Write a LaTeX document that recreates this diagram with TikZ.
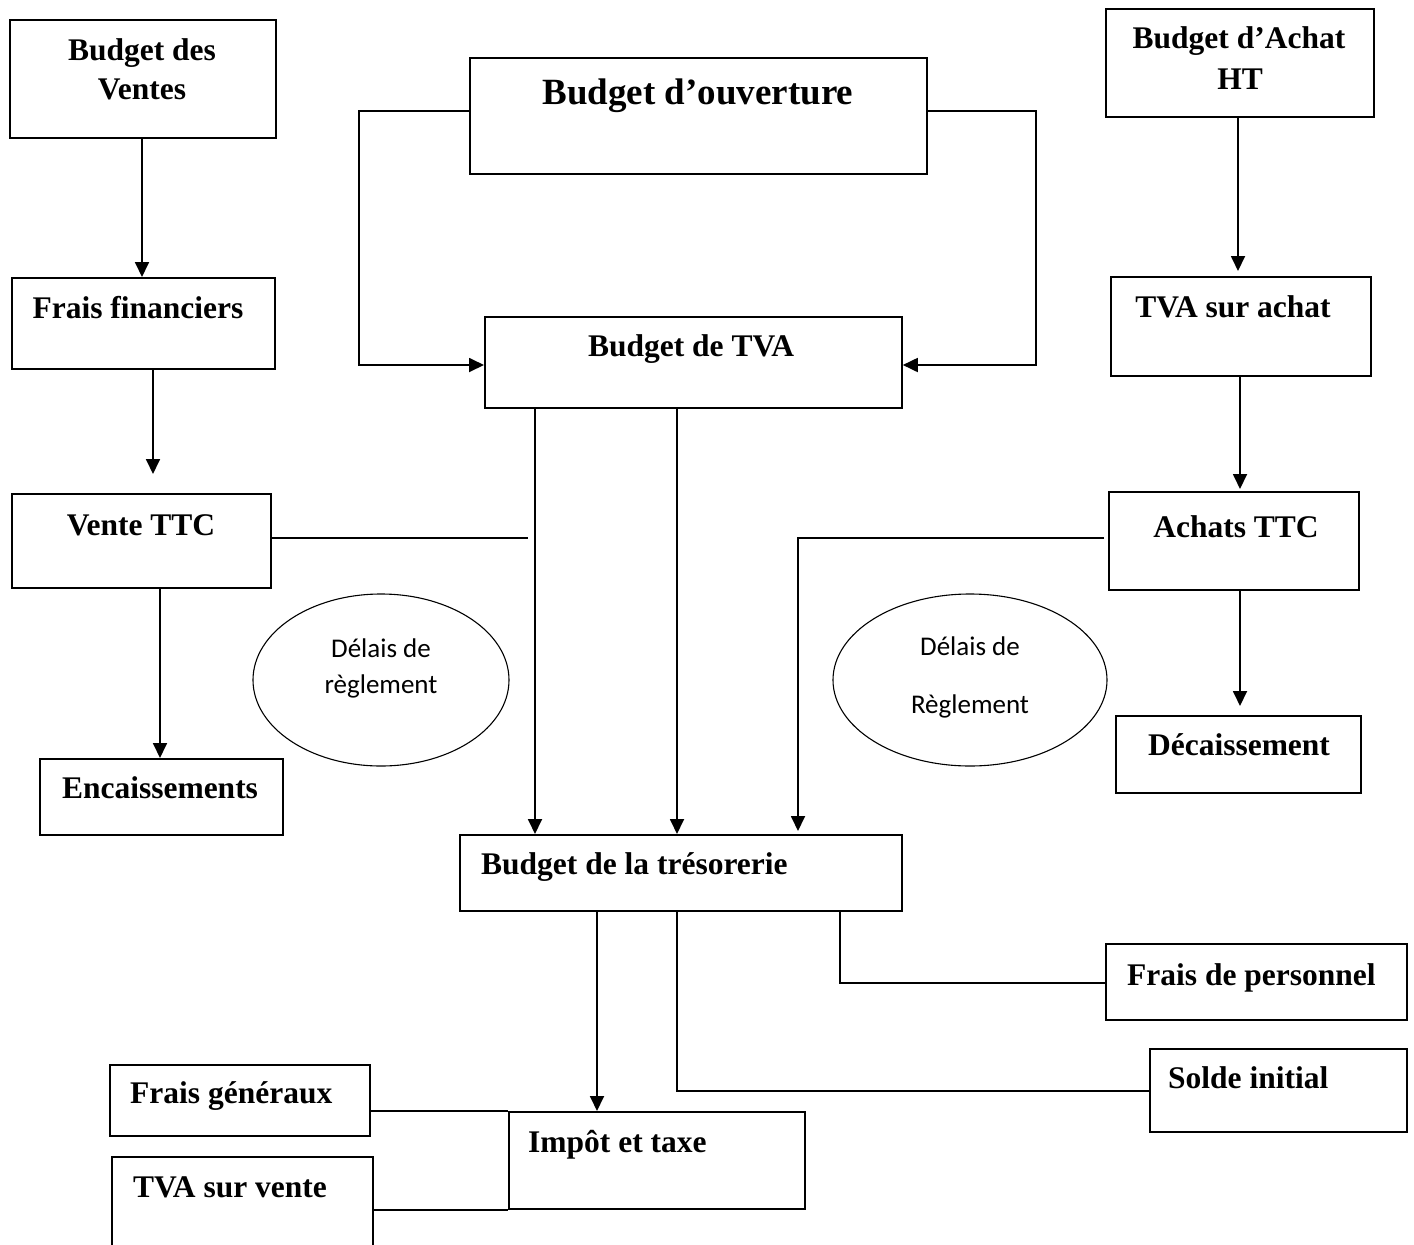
\documentclass[tikz,border=0pt]{standalone}
\usepackage{fontspec}
\setmainfont{Liberation Serif}
\newfontfamily\ellfont{Carlito}
\usetikzlibrary{arrows.meta,shapes.geometric}
\begin{document}
\begin{tikzpicture}[x=1pt,y=-1pt,
  box/.style={draw, line width=1.8pt, anchor=north west, inner sep=0pt},
  lbl/.style={font=\bfseries\fontsize{31.5}{36}\selectfont, inner sep=0pt},
  biglbl/.style={font=\bfseries\fontsize{37}{42}\selectfont, inner sep=0pt},
  oval/.style={draw, ellipse, line width=1.1pt, inner sep=0pt},
  olbl/.style={font=\ellfont\fontsize{27}{32}\selectfont, inner sep=0pt},
  wire/.style={line width=1.8pt},
  arr/.style={wire, -{Triangle[length=15pt,width=14pt]}}]

% page frame
\path[use as bounding box] (0,0) rectangle (1414,1245);
\clip (0,0) rectangle (1414,1245);
\fill[white] (0,0) rectangle (1414,1245);

% ---------- boxes ----------
\node[box, minimum width=266pt, minimum height=118pt] (bv)  at (9,19)    {};
\node[box, minimum width=263pt, minimum height=91pt]  (ff)  at (11,277)  {};
\node[box, minimum width=259pt, minimum height=94pt]  (vt)  at (11,493)  {};
\node[box, minimum width=243pt, minimum height=76pt]  (enc) at (39,758)  {};
\node[box, minimum width=457pt, minimum height=116pt] (bo)  at (469,57)  {};
\node[box, minimum width=417pt, minimum height=91pt]  (tva) at (484,316) {};
\node[box, minimum width=442pt, minimum height=76pt]  (bt)  at (459,834) {};
\node[box, minimum width=268pt, minimum height=108pt] (ba)  at (1105,8)  {};
\node[box, minimum width=260pt, minimum height=99pt]  (ta)  at (1110,276) {};
\node[box, minimum width=250pt, minimum height=98pt]  (at)  at (1108,491) {};
\node[box, minimum width=245pt, minimum height=77pt]  (dec) at (1115,715) {};
\node[box, minimum width=301pt, minimum height=76pt]  (fp)  at (1105,943) {};
\node[box, minimum width=257pt, minimum height=83pt]  (si)  at (1149,1048) {};
\node[box, minimum width=296pt, minimum height=97pt]  (it)  at (508,1111) {};
\node[box, minimum width=260pt, minimum height=71pt]  (fg)  at (109,1064) {};
\node[box, minimum width=261pt, minimum height=110pt] (tv)  at (111,1156) {};

% ---------- ovals ----------
\node[oval, minimum width=256pt, minimum height=172pt] (e1) at (381,680) {};
\node[oval, minimum width=274pt, minimum height=172pt] (e2) at (970,680) {};

% ---------- labels ----------
\node[lbl, anchor=base] (t-bv1) at (142,60) {Budget des};
\node[lbl, anchor=base] (t-bv2) at (142,99) {Ventes};
\node[lbl, anchor=base] (t-ff)  at (138,318) {Frais financiers};
\node[lbl, anchor=base] (t-vt)  at (141,535) {Vente TTC};
\node[lbl, anchor=base] (t-enc) at (160,798) {Encaissements};
\node[biglbl, anchor=base] (t-bo) at (698,104) {Budget d’ouverture};
\node[lbl, anchor=base] (t-tva) at (691,356) {Budget de TVA};
\node[lbl, anchor=base west] (t-bt) at (481,874) {Budget de la trésorerie};
\node[lbl, anchor=base] (t-ba1) at (1239,48) {Budget d’Achat};
\node[lbl, anchor=base] (t-ba2) at (1240,89) {HT};
\node[lbl, anchor=base] (t-ta)  at (1233,317) {TVA sur achat};
\node[lbl, anchor=base] (t-at)  at (1236,537) {Achats TTC};
\node[lbl, anchor=base] (t-dec) at (1239,755) {Décaissement};
\node[lbl, anchor=base west] (t-fp) at (1127,985) {Frais de personnel};
\node[lbl, anchor=base west] (t-si) at (1168,1088) {Solde initial};
\node[lbl, anchor=base west] (t-it) at (528,1152) {Impôt et taxe};
\node[lbl, anchor=base west] (t-fg) at (130,1103) {Frais généraux};
\node[lbl, anchor=base west] (t-tv) at (133,1197) {TVA sur vente};

\node[olbl, anchor=base] (t-e1a) at (381,657) {Délais de};
\node[olbl, anchor=base] (t-e1b) at (381,693) {règlement};
\node[olbl, anchor=base] (t-e2a) at (970,655) {Délais de};
\node[olbl, anchor=base] (t-e2b) at (970,713) {Règlement};

% ---------- bend points and free ends ----------
\coordinate (bL) at (359,365);
\coordinate (bR) at (1036,365);
\coordinate (vtend) at (528,538);
\coordinate (aK) at (798,538);

% ---------- left column ----------
\draw[arr] (bv.south -| 142,0) -- (ff.north -| 142,0);
\draw[arr, shorten >=19pt] (ff.south -| 153,0) -- (vt.north -| 153,0);
\draw[arr] (vt.south -| 160,0) -- (enc.north -| 160,0);
\draw[wire] (vt.east |- vtend) -- (vtend);

% ---------- opening budget to VAT budget ----------
\draw[arr] (bo.west |- 0,111) -| (bL) -- (tva.west |- bL);
\draw[arr] (bo.east |- 0,111) -| (bR) -- (tva.east |- bR);

% ---------- VAT budget to cash budget ----------
\draw[arr] (tva.south -| 535,0) -- (bt.north -| 535,0);
\draw[arr] (tva.south -| 677,0) -- (bt.north -| 677,0);

% ---------- right column ----------
\draw[arr, shorten >=5pt] (ba.south -| 1238,0) -- (ta.north -| 1238,0);
\draw[arr, shorten >=2pt] (ta.south -| 1240,0) -- (at.north -| 1240,0);
\draw[arr, shorten >=9pt] (at.south -| 1240,0) -- (dec.north -| 1240,0);
\draw[arr, shorten >=3pt] ([xshift=-4pt]at.west |- aK) -- (aK) -- (bt.north -| aK);

% ---------- below the cash budget ----------
\draw[arr] (bt.south -| 597,0) -- (it.north -| 597,0);
\draw[wire] (bt.south -| 677,0) |- (si.west |- 0,1091);
\draw[wire] (bt.south -| 840,0) |- (fp.west |- 0,983);
\draw[wire] (fg.east |- it.north west) -- (it.north west);
\draw[wire] (tv.east |- it.south west) -- (it.south west);
\end{tikzpicture}
\end{document}
